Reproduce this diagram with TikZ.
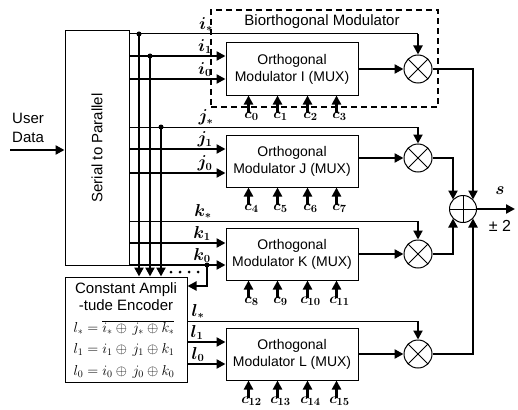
\documentclass[tikz,border=0pt]{standalone}
\usepackage[no-math]{fontspec}
\setmainfont{Liberation Sans}
\usetikzlibrary{arrows.meta,calc}
\begin{document}
\begin{tikzpicture}[x=1pt,y=-1pt,
  thinl/.style={line width=1pt},
  bus/.style={line width=2.7pt},
  mid/.style={line width=2pt},
  arr/.style={-{Triangle[length=9pt,width=9pt]}},
  box/.style={draw,line width=1pt,inner sep=0pt},
  modbox/.style={box,minimum width=132pt,minimum height=52pt,align=center,font=\fontsize{14}{17}\selectfont},
  mult/.style={draw,circle,line width=1pt,minimum size=28pt,inner sep=0pt,
    path picture={\draw[line width=0.9pt] (path picture bounding box.north west) -- (path picture bounding box.south east)
      (path picture bounding box.north east) -- (path picture bounding box.south west);}},
  sumc/.style={draw,circle,line width=1pt,minimum size=27pt,inner sep=0pt,
    path picture={\draw[line width=0.9pt] (path picture bounding box.north) -- (path picture bounding box.south)
      (path picture bounding box.east) -- (path picture bounding box.west);}},
  lbl/.style={font=\fontsize{16}{18}\selectfont\boldmath,inner sep=0pt},
  clbl/.style={font=\fontsize{15}{17}\selectfont\boldmath,inner sep=0pt,anchor=north},
  txt/.style={font=\fontsize{15}{17}\selectfont,inner sep=0pt},
  eq/.style={font=\fontsize{14}{16}\selectfont,text=black,inner sep=0pt},
  bigdot/.style={circle,fill,inner sep=0pt,minimum size=5pt},
  smalldot/.style={circle,fill,inner sep=0pt,minimum size=3pt}
]
\useasboundingbox (0,0) rectangle (518,409);

% Biorthogonal dashed box
\node[draw,line width=2pt,dash pattern=on 6pt off 4pt,minimum width=227pt,minimum height=97pt,inner sep=0pt] (bio) at (324.5,58.5) {};
\node[txt] (biotxt) at (322,22) {Biorthogonal Modulator};

% serial to parallel
\node[box,minimum width=64pt,minimum height=234pt] (sp) at (97,148) {};
\node[txt,rotate=90] (sptxt) at (sp.center) {Serial to Parallel};
\node[txt,align=left,anchor=west,font=\fontsize{15}{19}\selectfont] (ud) at (12,127.5) {User\\Data};
\coordinate (udin) at (10,150);
\draw[bus,arr] (udin) -- (sp.west |- udin);

% encoder
\node[box,minimum width=122pt,minimum height=105pt] (enc) at (126,329.5) {};
\node[txt,align=center] (enct) at (126,296.5) {Constant Ampli\\-tude Encoder};
\node[eq] (eq1) at (124,328) {$l_* = \overline{i_* \oplus\, j_* \oplus k_*}$};
\node[eq] (eq2) at (124,350) {$l_1 = i_1 \oplus\, j_1 \oplus k_1$};
\node[eq] (eq3) at (124,372) {$l_0 = i_0 \oplus\, j_0 \oplus k_0$};

% modulators
\node[modbox] (mI) at (292,69) {Orthogonal\\Modulator I (MUX)};
\node[modbox] (mJ) at (292,161) {Orthogonal\\Modulator J (MUX)};
\node[modbox] (mK) at (292,254) {Orthogonal\\Modulator K (MUX)};
\node[modbox] (mL) at (292,354) {Orthogonal\\Modulator L (MUX)};

% multipliers and sum
\node[mult] (xI) at (418,69) {};
\node[mult] (xJ) at (418,158) {};
\node[mult] (xK) at (418,254) {};
\node[mult] (xL) at (418,354) {};
\node[sumc] (sum) at (463,209) {};

% star lines
\foreach \m/\y in {I/34,J/127,K/221} {
  \draw[thinl] (sp.east |- 0,\y) -- (x\m.north |- 0,\y);
  \draw[mid,arr] (x\m.north |- 0,\y) -- (x\m.north);
}
\draw[thinl] (enc.east |- 0,321) -- (xL.north |- 0,321);
\draw[mid,arr] (xL.north |- 0,321) -- (xL.north);

% data inputs
\foreach \m/\a/\b in {I/56/79,J/149/173,K/243/265} {
  \draw[bus,arr] (sp.east |- 0,\a) -- (m\m.west |- 0,\a);
  \draw[bus,arr] (sp.east |- 0,\b) -- (m\m.west |- 0,\b);
}
\draw[bus,arr] (enc.east |- 0,342) -- (mL.west |- 0,342);
\draw[bus,arr] (enc.east |- 0,364) -- (mL.west |- 0,364);

% labels
\node[lbl,anchor=south] (li0) at (206,32) {$i_*$};
\node[lbl,anchor=south] (li1) at (205,54) {$i_1$};
\node[lbl,anchor=south] (li2) at (205,77) {$i_0$};
\node[lbl,anchor=south] (lj0) at (206,125) {$j_*$};
\node[lbl,anchor=south] (lj1) at (205,147) {$j_1$};
\node[lbl,anchor=south] (lj2) at (205,171) {$j_0$};
\node[lbl,anchor=south] (lk0) at (203,219) {$k_*$};
\node[lbl,anchor=south] (lk1) at (202,241) {$k_1$};
\node[lbl,anchor=south] (lk2) at (202,263) {$k_0$};
\node[lbl,anchor=south] (ll0) at (198,319) {$l_*$};
\node[lbl,anchor=south] (ll1) at (197,340) {$l_1$};
\node[lbl,anchor=south] (ll2) at (198,362) {$l_0$};

% bus to encoder
\node[bigdot] (d1) at (139,34) {};
\node[bigdot] (d2) at (150,56) {};
\node[bigdot] (d3) at (161,127) {};
\foreach \d in {d1,d2,d3} \draw[bus,arr] (\d.center) -- (\d.center |- enc.north);
\foreach \x [count=\i] in {171,180,189,198} \node[smalldot] (e\i) at (\x,272) {};
\node[bigdot] (d4) at (207,265) {};
\coordinate (k0turn) at (207,286);
\draw[mid,arr] (d4.center) -- (k0turn) -- (enc.east |- k0turn);

% modulator outputs
\draw[bus,arr] (mI.east) -- (xI.west);
\draw[bus,arr] (mJ.east |- xJ) -- (xJ.west);
\draw[bus,arr] (mK.east) -- (xK.west);
\draw[bus,arr] (mL.east) -- (xL.west);

% to sum
\draw[bus,arr] (xI.east) -| ($(sum.center)+(10,-9.5)$);
\draw[bus,arr] (xJ.east) -| ($(sum.center)+(-10,-9.5)$);
\draw[bus,arr] (xK.east) -| ($(sum.center)+(-10,9.5)$);
\draw[bus,arr] (xL.east) -| ($(sum.center)+(10,9.5)$);
\coordinate (sout) at (515,209);
\draw[bus,arr] (sum.east) -- (sout);
\node[lbl] (slab) at (500,191) {$s$};
\node[txt,font=\fontsize{16}{18}\selectfont] (pm) at (500,226) {± 2};

% chip inputs
\foreach \m/\s in {I/0,J/4,K/8,L/12} {
  \foreach \dx [count=\k from 0] in {23,52,82,111} {
    \pgfmathtruncatemacro\cc{\s+\k}
    \coordinate (c\cc) at ($(m\m.south west)+(\dx,17)$);
    \draw[bus,arr] (c\cc) -- (c\cc |- m\m.south);
    \node[clbl] (lc\cc) at ($(c\cc)+(3,-0.5)$) {$c_{\cc}$};
  }
}
\end{tikzpicture}
\end{document}
